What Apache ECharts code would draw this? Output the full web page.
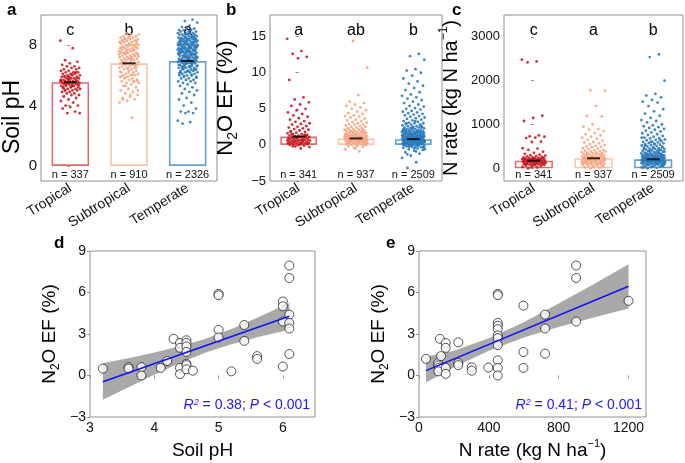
<!DOCTYPE html>
<html><head><meta charset="utf-8">
<script src="https://cdn.jsdelivr.net/npm/echarts@6/dist/echarts.min.js"></script>
<style>html,body{margin:0;padding:0;background:#fff}#c{width:685px;height:463px}</style>
</head><body><div id="c"></div>
<script>
// ---------- DATA ----------
const categories = ['Tropical', 'Subtropical', 'Temperate'];

// panel a: soil pH
const phTropical = [8.3, 7.8, 7.0, 6.9, 6.8, 6.7, 6.6, 6.6, 6.5, 6.5, 6.4, 6.4, 6.3, 6.3, 6.2, 6.2, 6.2, 6.1, 6.1, 6.1, 6.0, 6.0, 6.0, 5.9, 5.9, 5.9, 5.9, 5.8, 5.8, 5.8, 5.8, 5.7, 5.7, 5.7, 5.7, 5.6, 5.6, 5.6, 5.6, 5.5, 5.5, 5.5, 5.5, 5.4, 5.4, 5.4, 5.4, 5.3, 5.3, 5.3, 5.2, 5.2, 5.2, 5.1, 5.1, 5.1, 5.0, 5.0, 5.0, 4.9, 4.9, 4.8, 4.8, 4.7, 4.7, 4.6, 4.5, 4.4, 4.3, 4.2, 4.0, 4.0, 3.9, 3.8, 3.6, 3.5, 3.5, 6.05, 5.95, 5.85, 5.75, 5.65, 5.55, 5.45, 5.35, 5.25, 5.15, 6.2, 5.9, 5.6, 5.3, 5.0];
const phSubtropical = [8.8, 8.7, 8.7, 8.6, 8.6, 8.5, 8.5, 8.5, 8.4, 8.4, 8.4, 8.3, 8.3, 8.3, 8.2, 8.2, 8.2, 8.1, 8.1, 8.1, 8.0, 8.0, 8.0, 8.0, 7.9, 7.9, 7.9, 7.8, 7.8, 7.8, 7.8, 7.7, 7.7, 7.7, 7.6, 7.6, 7.6, 7.5, 7.5, 7.5, 7.5, 7.4, 7.4, 7.4, 7.3, 7.3, 7.3, 7.2, 7.2, 7.2, 7.1, 7.1, 7.1, 7.0, 7.0, 7.0, 6.9, 6.9, 6.9, 6.8, 6.8, 6.8, 6.7, 6.7, 6.7, 6.6, 6.6, 6.5, 6.5, 6.5, 6.4, 6.4, 6.3, 6.3, 6.2, 6.2, 6.1, 6.1, 6.0, 6.0, 6.0, 5.9, 5.9, 5.8, 5.8, 5.7, 5.7, 5.6, 5.6, 5.5, 5.5, 5.4, 5.3, 5.2, 5.1, 5.0, 4.9, 4.8, 4.7, 4.6, 4.5, 4.4, 4.3, 4.2, 3.2, 8.45, 8.25, 8.05, 7.85, 7.65, 7.45, 7.25, 7.05, 6.85, 6.65, 6.45, 6.25, 6.05, 5.85, 5.65, 8.6, 8.3, 8.0, 7.7, 7.4, 7.1, 6.8, 6.5, 6.2, 5.9, 5.6, 5.3, 5.0, 4.7, 4.4];
const phTemperate = [9.7, 9.6, 9.5, 9.3, 9.2, 9.1, 9.1, 9.0, 9.0, 9.0, 8.9, 8.9, 8.9, 8.8, 8.8, 8.8, 8.8, 8.7, 8.7, 8.7, 8.7, 8.6, 8.6, 8.6, 8.6, 8.5, 8.5, 8.5, 8.5, 8.5, 8.4, 8.4, 8.4, 8.4, 8.4, 8.3, 8.3, 8.3, 8.3, 8.3, 8.2, 8.2, 8.2, 8.2, 8.2, 8.1, 8.1, 8.1, 8.1, 8.1, 8.0, 8.0, 8.0, 8.0, 8.0, 8.0, 7.9, 7.9, 7.9, 7.9, 7.9, 7.8, 7.8, 7.8, 7.8, 7.8, 7.7, 7.7, 7.7, 7.7, 7.7, 7.6, 7.6, 7.6, 7.6, 7.6, 7.5, 7.5, 7.5, 7.5, 7.5, 7.4, 7.4, 7.4, 7.4, 7.3, 7.3, 7.3, 7.3, 7.2, 7.2, 7.2, 7.2, 7.1, 7.1, 7.1, 7.1, 7.0, 7.0, 7.0, 7.0, 6.9, 6.9, 6.9, 6.9, 6.8, 6.8, 6.8, 6.8, 6.7, 6.7, 6.7, 6.6, 6.6, 6.6, 6.5, 6.5, 6.5, 6.4, 6.4, 6.4, 6.3, 6.3, 6.3, 6.2, 6.2, 6.2, 6.1, 6.1, 6.0, 6.0, 6.0, 5.9, 5.9, 5.8, 5.8, 5.7, 5.7, 5.6, 5.6, 5.5, 5.5, 5.4, 5.3, 5.2, 5.1, 5.0, 4.9, 4.8, 4.7, 4.5, 4.4, 4.2, 4.0, 3.8, 3.6, 3.6, 3.5, 3.5, 3.0, 2.9, 2.8, 8.45, 8.35, 8.25, 8.15, 8.05, 7.95, 7.85, 7.75, 7.65, 7.55, 7.45, 7.35, 7.25, 7.15, 7.05, 6.95, 6.85, 6.75, 6.65, 6.55, 6.45, 6.35, 6.25, 6.15, 6.05, 5.95, 5.85, 8.4, 8.3, 8.2, 8.1, 8.0, 7.9, 7.8, 7.7, 7.6, 7.5, 7.4, 7.3, 7.2, 7.1, 7.0, 6.9, 6.8, 6.7, 6.6, 6.5, 6.4, 6.3, 6.2, 8.6, 8.5, 8.0, 7.8, 7.6, 7.4, 7.2, 7.0, 6.8, 6.6];
const phMeans = [5.55, 6.8, 6.95];
const phN = ['n = 337', 'n = 910', 'n = 2326'];
const phLetters = ['c', 'b', 'a'];

// panel b: N2O EF (%)
const efTropical = [14.7, 13.0, 12.6, 12.2, 12.0, 9.0, 6.6, 6.3, 5.9, 5.6, 5.4, 5.0, 4.8, 4.5, 4.3, 4.1, 3.9, 3.7, 3.5, 3.3, 3.2, 3.0, 2.9, 2.8, 2.6, 2.5, 2.4, 2.3, 2.2, 2.1, 2.0, 1.9, 1.8, 1.7, 1.6, 1.5, 1.5, 1.4, 1.3, 1.3, 1.2, 1.2, 1.1, 1.1, 1.0, 1.0, 0.9, 0.9, 0.8, 0.8, 0.8, 0.7, 0.7, 0.7, 0.6, 0.6, 0.6, 0.5, 0.5, 0.5, 0.4, 0.4, 0.4, 0.3, 0.3, 0.3, 0.2, 0.2, 0.2, 0.1, 0.1, 0.1, 0.0, 0.0, -0.1, -0.2, -0.3, -0.5, 1.45, 1.25, 1.05, 0.85, 0.65, 0.45, 0.25, 0.05, 1.8, 1.4, 1.0, 0.6, 0.2, -0.2];
const efSubtropical = [14.4, 10.7, 6.9, 6.0, 5.8, 5.6, 5.4, 5.2, 5.0, 4.8, 4.6, 4.4, 4.3, 4.1, 4.0, 3.9, 3.8, 3.6, 3.5, 3.4, 3.3, 3.2, 3.1, 3.0, 2.9, 2.8, 2.8, 2.7, 2.6, 2.5, 2.5, 2.4, 2.3, 2.3, 2.2, 2.1, 2.1, 2.0, 2.0, 1.9, 1.9, 1.8, 1.8, 1.7, 1.7, 1.6, 1.6, 1.5, 1.5, 1.5, 1.4, 1.4, 1.4, 1.3, 1.3, 1.3, 1.2, 1.2, 1.2, 1.1, 1.1, 1.1, 1.0, 1.0, 1.0, 1.0, 0.9, 0.9, 0.9, 0.9, 0.8, 0.8, 0.8, 0.8, 0.7, 0.7, 0.7, 0.7, 0.6, 0.6, 0.6, 0.6, 0.5, 0.5, 0.5, 0.5, 0.4, 0.4, 0.4, 0.3, 0.3, 0.3, 0.2, 0.2, 0.2, 0.1, 0.1, 0.0, 0.0, -0.1, -0.2, -0.3, -0.4, -0.6, -0.9, 1.85, 1.65, 1.45, 1.25, 1.05, 0.85, 0.65, 0.45, 0.25, 0.05, 1.9, 1.5, 1.1, 0.7, 0.3, -0.1, 2.3, 2.0, 1.6, 1.2, 0.8, 0.4, 0.0, -0.5];
const efTemperate = [12.6, 12.3, 11.8, 10.5, 10.3, 10.0, 9.6, 9.2, 8.8, 8.5, 8.2, 7.9, 7.6, 7.3, 7.0, 6.8, 6.6, 6.4, 6.2, 6.0, 5.8, 5.6, 5.4, 5.3, 5.1, 5.0, 4.9, 4.7, 4.6, 4.5, 4.4, 4.3, 4.2, 4.1, 4.0, 3.9, 3.8, 3.7, 3.6, 3.5, 3.4, 3.3, 3.2, 3.1, 3.0, 3.0, 2.9, 2.8, 2.8, 2.7, 2.6, 2.6, 2.5, 2.5, 2.4, 2.4, 2.3, 2.3, 2.2, 2.2, 2.1, 2.1, 2.0, 2.0, 2.0, 1.9, 1.9, 1.9, 1.8, 1.8, 1.8, 1.7, 1.7, 1.7, 1.6, 1.6, 1.6, 1.5, 1.5, 1.5, 1.5, 1.4, 1.4, 1.4, 1.4, 1.3, 1.3, 1.3, 1.3, 1.2, 1.2, 1.2, 1.2, 1.1, 1.1, 1.1, 1.1, 1.0, 1.0, 1.0, 1.0, 1.0, 0.9, 0.9, 0.9, 0.9, 0.9, 0.8, 0.8, 0.8, 0.8, 0.8, 0.7, 0.7, 0.7, 0.7, 0.7, 0.6, 0.6, 0.6, 0.6, 0.6, 0.5, 0.5, 0.5, 0.5, 0.5, 0.4, 0.4, 0.4, 0.4, 0.3, 0.3, 0.3, 0.3, 0.2, 0.2, 0.2, 0.2, 0.1, 0.1, 0.1, 0.0, 0.0, 0.0, -0.1, -0.1, -0.2, -0.2, -0.3, -0.3, -0.4, -0.5, -0.6, -0.7, -0.8, -1.0, -1.2, -1.5, -1.8, -2.4, -3.2, 2.45, 2.35, 2.15, 1.95, 1.85, 1.75, 1.65, 1.55, 1.45, 1.35, 1.25, 1.15, 1.05, 0.95, 0.85, 0.75, 0.65, 0.55, 0.45, 0.35, 0.25, 0.15, 0.05, -0.05, -0.15, -0.25, -0.35, -0.45, 1.9, 1.7, 1.5, 1.3, 1.1, 0.9, 0.7, 0.5, 0.3, 0.1, -0.1, -0.3, 3.3, 3.0, 2.7, 2.4, 2.1, 1.8, 1.5, 1.2, 0.9, 0.6, 0.3, 0.0, -0.6, -0.9, -1.3];
const efMeans = [1.15, 0.9, 0.8];
const efN = ['n = 341', 'n = 937', 'n = 2509'];
const efLetters = ['a', 'ab', 'b'];

// panel c: N rate (kg N/ha)
const nTropical = [2480, 2440, 2420, 1200, 1150, 1080, 750, 730, 720, 700, 690, 610, 600, 460, 450, 420, 380, 350, 330, 310, 300, 290, 280, 270, 260, 250, 250, 240, 240, 230, 230, 220, 220, 210, 210, 200, 200, 200, 190, 190, 180, 180, 180, 170, 170, 160, 160, 150, 150, 150, 140, 140, 130, 130, 120, 120, 110, 110, 100, 100, 90, 90, 80, 80, 70, 60, 50, 40, 30, 20, 0, 245, 225, 205, 185, 165, 145, 125, 105, 85, 65, 200, 180, 160, 140, 120, 100];
const nSubtropical = [1780, 1770, 1420, 1200, 1180, 1000, 950, 900, 880, 850, 800, 780, 750, 720, 700, 680, 650, 630, 600, 590, 570, 550, 530, 510, 500, 490, 480, 460, 450, 440, 420, 410, 400, 390, 380, 370, 360, 350, 345, 340, 330, 320, 310, 300, 300, 290, 280, 270, 270, 260, 250, 250, 240, 240, 230, 230, 225, 220, 220, 210, 210, 200, 200, 195, 190, 180, 180, 170, 165, 160, 150, 150, 140, 135, 130, 120, 120, 110, 100, 100, 90, 80, 75, 60, 50, 40, 30, 20, 10, 0, 380, 350, 320, 290, 260, 235, 215, 205, 185, 175, 155, 145, 125, 115, 95, 85, 65, 45, 250, 230, 210, 190, 170, 150, 300, 270];
const nTemperate = [2600, 2540, 2000, 1700, 1660, 1620, 1560, 1520, 1500, 1420, 1350, 1300, 1250, 1200, 1150, 1100, 1080, 1050, 1000, 980, 960, 940, 920, 900, 880, 860, 840, 820, 800, 780, 760, 740, 720, 700, 690, 680, 660, 650, 640, 620, 610, 600, 590, 580, 570, 560, 550, 540, 530, 520, 510, 500, 490, 480, 470, 460, 450, 445, 440, 430, 420, 410, 400, 395, 390, 380, 370, 360, 355, 350, 340, 335, 330, 320, 315, 310, 300, 300, 295, 290, 285, 280, 275, 270, 265, 260, 255, 250, 250, 245, 240, 235, 230, 230, 225, 220, 220, 215, 210, 210, 205, 200, 200, 195, 190, 190, 185, 180, 180, 175, 170, 170, 165, 160, 160, 155, 150, 150, 145, 140, 135, 130, 125, 120, 115, 110, 105, 100, 95, 90, 85, 80, 75, 70, 60, 50, 40, 30, 20, 10, 0, 480, 460, 440, 420, 400, 380, 360, 340, 320, 300, 280, 260, 240, 220, 200, 180, 160, 140, 120, 100, 80, 60, 40, 20, 350, 320, 290, 260, 230, 200, 170, 140, 110, 80, 50, 250, 225, 200, 175, 150, 125, 300, 270, 240, 210, 190, 160, 130, 550, 520, 650, 600, 700];
const nMeans = [175, 229, 206];
const nN = ['n = 341', 'n = 937', 'n = 2509'];
const nLetters = ['c', 'a', 'b'];

// panel d: EF vs soil pH
const dPH = [3.2, 3.6, 3.6, 3.8, 3.8, 4.1, 4.2, 4.3, 4.4, 4.4, 4.4, 4.4, 4.5, 4.5, 4.5, 4.5, 4.5, 4.5, 4.5, 4.6, 5.0, 5.0, 5.0, 5.0, 5.2, 5.4, 5.4, 5.6, 5.6, 6.0, 6.0, 6.0, 6.0, 6.1, 6.1, 6.1, 6.1, 6.1, 6.1];
const dEF = [0.5, 0.6, 0.5, 0.6, 0.0, 0.55, 1.05, 2.65, 2.35, 2.0, 0.55, 0.1, 2.55, 2.35, 2.1, 1.7, 0.85, 0.75, 0.45, 0.35, 5.9, 5.8, 3.3, 2.75, 0.3, 3.65, 2.5, 1.4, 1.2, 5.35, 5.0, 3.9, 0.65, 7.95, 7.05, 4.4, 3.8, 3.4, 1.55];
const dFit = [[3.2, -0.45], [6.1, 4.28]];
const dBandX = [3.2, 3.6, 4.0, 4.4, 4.8, 5.2, 5.6, 6.1];
const dBandLo = [-1.75, -0.85, 0.06, 0.91, 1.66, 2.26, 2.77, 3.31];
const dBandHi = [0.9, 1.25, 1.66, 2.11, 2.66, 3.36, 4.17, 5.25];

// panel e: EF vs N rate
const eN = [40, 110, 111, 115, 111, 120, 126, 153, 153, 153, 153, 225, 225, 225, 302, 302, 397, 451, 451, 451, 451, 451, 451, 451, 451, 451, 451, 451, 598, 598, 598, 722, 722, 722, 900, 900, 900, 1200];
const eEF = [1.2, 0.9, 0.73, 0.57, 0.3, 2.65, 1.4, 2.35, 2.0, 0.55, 0.12, 2.4, 0.9, 0.75, 0.6, 0.35, 0.57, 5.9, 5.8, 3.8, 3.6, 3.35, 2.9, 2.7, 2.2, 1.1, 0.55, 0.0, 5.05, 1.7, 0.55, 4.4, 3.4, 1.58, 7.95, 7.05, 3.9, 5.4];
const eFit = [[40, 0.35], [1200, 6.45]];
const eBandX = [40, 200, 400, 600, 800, 1000, 1200];
const eBandLo = [-0.5, 0.59, 1.79, 2.75, 3.5, 4.2, 4.85];
const eBandHi = [1.35, 1.79, 2.69, 3.85, 5.2, 6.6, 8.05];

// tick values
const phTicks = [0, 4, 8];
const efTicks = [-5, 0, 5, 10, 15];
const nTicks = [0, 1000, 2000, 3000];
const scEFTicks = [-3, 0, 3, 6, 9];
const scPHTicks = [3, 4, 5, 6];
const scNTicks = [0, 400, 800, 1200];

// ---------- STYLE ----------
const FONT = 'Arial, "Liberation Sans", Helvetica, sans-serif';
const ptColors = ['#c9181e', '#f4a582', '#2a7ab9'];
const barColors = ['#e06c6c', '#f8c4ae', '#62a0d6'];
const boxColor = '#8f8f8f';
const minus = v => String(v).replace('-', '\u2212');

const grids = [
  { left: 35, top: 15, width: 182, height: 166 },
  { left: 270, top: 15, width: 172, height: 166 },
  { left: 504, top: 15, width: 179, height: 166 },
  { left: 90, top: 251, width: 225, height: 166 },
  { left: 419, top: 251, width: 227, height: 166 }
].map(g => Object.assign({ show: true, borderColor: boxColor, borderWidth: 1, backgroundColor: 'transparent' }, g));

const xAxes = [], yAxes = [], series = [];
function richScaled(sz) {
  return {
    n: { fontSize: sz, lineHeight: sz + 6, fontFamily: FONT, color: '#000' },
    s: { fontSize: Math.round(sz * 0.65), lineHeight: Math.round(sz * 0.65), fontFamily: FONT, color: '#000', verticalAlign: 'bottom' },
    p: { fontSize: Math.round(sz * 0.6), lineHeight: Math.round(sz * 0.6), fontFamily: FONT, color: '#000', verticalAlign: 'top' }
  };
}

function jitter(values, ci, w) {
  return values.map((v, k) => [ci + (((k * 0.6180339887 + ci * 0.37) % 1) - 0.5) * w, v]);
}

function topPanel(p, cfg) {
  const base = xAxes.length;
  xAxes.push({ type: 'category', gridIndex: p, data: categories, position: 'bottom',
    axisLine: { show: false }, axisTick: { show: false }, splitLine: { show: false },
    axisLabel: { rotate: 32, fontSize: 14, fontFamily: FONT, color: '#111', margin: 6 } });
  xAxes.push({ type: 'value', gridIndex: p, min: -0.5, max: 2.5, show: false, position: 'bottom' });
  xAxes.push({ type: 'category', gridIndex: p, data: cfg.nLabels, position: 'bottom',
    axisLine: { show: false }, axisTick: { show: false },
    axisLabel: { inside: true, fontSize: 11, fontFamily: FONT, color: '#111', margin: 1 } });
  xAxes.push({ type: 'category', gridIndex: p, data: cfg.letters, position: 'top',
    axisLine: { show: false }, axisTick: { show: false },
    axisLabel: { inside: true, fontSize: 16, fontFamily: FONT, color: '#000', margin: 8 } });
  yAxes.push({ type: 'value', gridIndex: p, min: cfg.min, max: cfg.max,
    name: cfg.name, nameLocation: 'middle', nameGap: cfg.nameGap,
    nameTextStyle: { rich: richScaled(cfg.nameSize), fontSize: cfg.nameSize, fontFamily: FONT, color: '#000', padding: cfg.namePad },
    axisLine: { show: false }, splitLine: { show: false },
    axisTick: { show: true, length: 3, lineStyle: { color: boxColor }, customValues: cfg.ticks },
    axisLabel: { fontSize: cfg.tickSize, fontFamily: FONT, color: '#111', margin: 4, customValues: cfg.ticks, formatter: minus } });
  series.push({ type: 'bar', xAxisIndex: base, yAxisIndex: p, barWidth: '64%', silent: true, z: 1,
    data: cfg.means.map((m, i) => ({ value: m, itemStyle: { color: 'rgba(255,255,255,0)', borderColor: barColors[i], borderWidth: 1.6 } })) });
  cfg.groups.forEach((g, i) => {
    series.push({ type: 'scatter', xAxisIndex: base + 1, yAxisIndex: p, silent: true, z: 2,
      symbolSize: 2.8, data: jitter(g, i, cfg.jw), itemStyle: { color: ptColors[i], opacity: 0.9 } });
  });
  series.push({ type: 'scatter', xAxisIndex: base + 1, yAxisIndex: p, silent: true, z: 3,
    symbol: 'rect', symbolSize: [13, 2], data: cfg.means.map((m, i) => [i, m]), itemStyle: { color: '#000' } });
}

topPanel(0, { groups: [phTropical, phSubtropical, phTemperate], means: phMeans, nLabels: phN, letters: phLetters,
  min: -1, max: 10, ticks: phTicks, tickSize: 15, name: '{n|Soil pH}', nameGap: 14, nameSize: 23, namePad: [0, 38, 0, 0], jw: 0.34 });
topPanel(1, { groups: [efTropical, efSubtropical, efTemperate], means: efMeans, nLabels: efN, letters: efLetters,
  min: -5, max: 18, ticks: efTicks, tickSize: 13, name: '{n|N}{s|2}{n|O EF (%)}', nameGap: 30, nameSize: 22, namePad: [0, 0, 0, 0], jw: 0.4 });
topPanel(2, { groups: [nTropical, nSubtropical, nTemperate], means: nMeans, nLabels: nN, letters: nLetters,
  min: -290, max: 3500, ticks: nTicks, tickSize: 13, name: '{n|N rate (kg N ha}{p|\u22121}{n|)}', nameGap: 40, nameSize: 20, namePad: [0, 0, 0, 0], jw: 0.4 });

function scatterPanel(p, cfg) {
  const xi = xAxes.length;
  xAxes.push({ type: 'value', gridIndex: p, min: cfg.xmin, max: cfg.xmax, position: 'bottom',
    name: cfg.xName, nameLocation: 'middle', nameGap: 21,
    nameTextStyle: { rich: richScaled(19), fontSize: 19, fontFamily: FONT, color: '#000' },
    axisLine: { show: false }, splitLine: { show: false },
    axisTick: { show: true, length: 3, lineStyle: { color: boxColor }, customValues: cfg.xTicks },
    axisLabel: { fontSize: 14, fontFamily: FONT, color: '#111', margin: 4, customValues: cfg.xTicks, formatter: minus } });
  yAxes.push({ type: 'value', gridIndex: p, min: -3, max: 9,
    name: '{n|N}{s|2}{n|O EF (%)}', nameLocation: 'middle', nameGap: 28,
    nameTextStyle: { rich: richScaled(19), fontSize: 19, fontFamily: FONT, color: '#000' },
    axisLine: { show: false }, splitLine: { show: false },
    axisTick: { show: true, length: 3, lineStyle: { color: boxColor }, customValues: scEFTicks },
    axisLabel: { fontSize: 14, fontFamily: FONT, color: '#111', margin: 4, customValues: scEFTicks, formatter: minus } });
  const yi = p;
  const bx = cfg.bandX, lo = cfg.bandLo, hi = cfg.bandHi;
  series.push({ type: 'custom', xAxisIndex: xi, yAxisIndex: yi, silent: true, z: 1,
    data: bx.map((x, i) => [x, lo[i], hi[i]]), encode: { x: 0, y: [1, 2] },
    renderItem: (params, api) => {
      if (params.dataIndex !== 0) return null;
      const pts = [];
      for (let i = 0; i < bx.length; i++) pts.push(api.coord([bx[i], hi[i]]));
      for (let i = bx.length - 1; i >= 0; i--) pts.push(api.coord([bx[i], lo[i]]));
      return { type: 'polygon', shape: { points: pts }, style: { fill: '#a9a9a9' } };
    } });
  series.push({ type: 'scatter', xAxisIndex: xi, yAxisIndex: yi, silent: true, z: 2, symbolSize: 9,
    data: cfg.xs.map((x, i) => [x, cfg.ys[i]]),
    itemStyle: { color: '#fff', borderColor: '#111', borderWidth: 0.9 } });
  series.push({ type: 'line', xAxisIndex: xi, yAxisIndex: yi, silent: true, z: 3, symbol: 'none',
    data: cfg.fit, lineStyle: { color: '#1010ff', width: 1.5 } });
}

scatterPanel(3, { xs: dPH, ys: dEF, fit: dFit, bandX: dBandX, bandLo: dBandLo, bandHi: dBandHi,
  xmin: 3, xmax: 6.5, xTicks: scPHTicks, xName: '{n|Soil pH}' });
scatterPanel(4, { xs: eN, ys: eEF, fit: eFit, bandX: eBandX, bandLo: eBandLo, bandHi: eBandHi,
  xmin: 0, xmax: 1300, xTicks: scNTicks, xName: '{n|N rate (kg N ha}{p|\u22121}{n|)}' });

const statRich = {
  i: { fontSize: 14, fontStyle: 'italic', fontFamily: FONT, fill: '#1a1aff' },
  t: { fontSize: 14, fontFamily: FONT, fill: '#1a1aff' },
  p: { fontSize: 9, fontStyle: 'italic', fontFamily: FONT, fill: '#1a1aff', verticalAlign: 'top', lineHeight: 10 }
};
function letter(t, x, y) {
  return { type: 'text', x: x, y: y, silent: true, style: { text: t, font: 'bold 17px ' + FONT, fill: '#000', align: 'left', verticalAlign: 'bottom' } };
}
const graphics = [
  letter('a', 7, 19), letter('b', 226, 19), letter('c', 452, 19), letter('d', 54, 252), letter('e', 386, 252),
  { type: 'text', x: 310, y: 405, silent: true, style: { text: '{i|R}{p|2}{t| = 0.38; }{i|P}{t| < 0.001}', rich: statRich, align: 'right', verticalAlign: 'middle', fill: '#1a1aff' } },
  { type: 'text', x: 642, y: 405, silent: true, style: { text: '{i|R}{p|2}{t| = 0.41; }{i|P}{t| < 0.001}', rich: statRich, align: 'right', verticalAlign: 'middle', fill: '#1a1aff' } }
];

const chart = echarts.init(document.getElementById('c'), null, { renderer: 'canvas' });
chart.setOption({
  animation: false,
  backgroundColor: '#fff',
  grid: grids,
  xAxis: xAxes,
  yAxis: yAxes,
  series: series,
  graphic: graphics
});
</script></body></html>
